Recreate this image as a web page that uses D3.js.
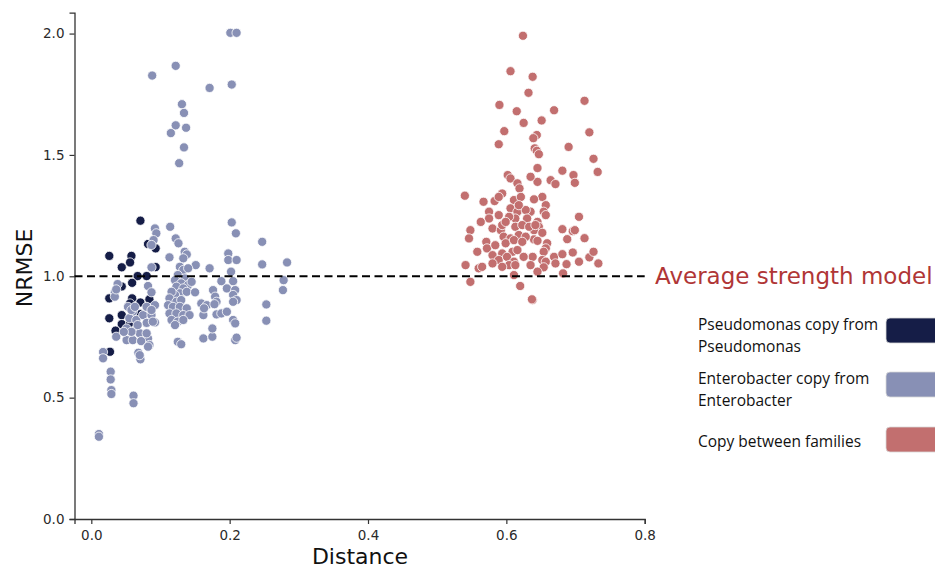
<!DOCTYPE html>
<html>
<head>
<meta charset="utf-8">
<script src="https://cdn.jsdelivr.net/npm/d3@7"></script>
<style>
  body { margin: 0; background: #fff; }
  svg { display: block; font-family: "DejaVu Sans", sans-serif; }
</style>
</head>
<body>
<svg id="chart" width="935" height="569"></svg>
<script>
// [distance, NRMSE]
const pseudomonas = [
  [0.071, 1.229], [0.026, 1.084], [0.058, 1.084], [0.056, 1.057], [0.044, 1.037],
  [0.082, 1.133], [0.093, 1.115], [0.093, 1.038], [0.067, 1.001], [0.080, 1.001],
  [0.059, 0.973], [0.044, 0.958], [0.026, 0.909], [0.059, 0.909], [0.056, 0.888],
  [0.071, 0.892], [0.084, 0.905], [0.071, 0.844], [0.044, 0.840], [0.026, 0.827],
  [0.044, 0.803], [0.056, 0.806], [0.035, 0.776], [0.027, 0.689]
];

const enterobacter = [
  // outliers
  [0.201, 2.003], [0.210, 2.003], [0.122, 1.867], [0.088, 1.827], [0.171, 1.776],
  [0.203, 1.790], [0.131, 1.709], [0.134, 1.673], [0.122, 1.622], [0.137, 1.612],
  [0.115, 1.590], [0.134, 1.531], [0.127, 1.466],
  [0.028, 0.607], [0.028, 0.575], [0.029, 0.531], [0.029, 0.515], [0.061, 0.508],
  [0.061, 0.477], [0.011, 0.350], [0.011, 0.339], [0.017, 0.688], [0.017, 0.662],
  [0.071, 0.658], [0.068, 0.685],
  // near 0.05
  [0.092, 1.197], [0.094, 1.177], [0.090, 1.149], [0.087, 1.129], [0.114, 1.204],
  [0.122, 1.156], [0.126, 1.136], [0.113, 1.078], [0.087, 1.037], [0.082, 0.960],
  [0.087, 0.934], [0.034, 0.934], [0.038, 0.968], [0.092, 0.881], [0.060, 0.854],
  [0.055, 0.827], [0.065, 0.820], [0.075, 0.840], [0.087, 0.840], [0.051, 0.785],
  [0.063, 0.778], [0.070, 0.765], [0.082, 0.744], [0.084, 0.717], [0.036, 0.751],
  [0.051, 0.737], [0.060, 0.737], [0.072, 0.733], [0.092, 0.810], [0.080, 0.808],
  [0.053, 0.874], [0.058, 0.861], [0.063, 0.874], [0.080, 0.874], [0.087, 0.861],
  [0.089, 0.813], [0.067, 0.799], [0.058, 0.771], [0.080, 0.765], [0.082, 0.710],
  [0.070, 0.675], [0.034, 0.916], [0.036, 0.946], [0.047, 0.771],
  // near 0.13
  [0.135, 1.101], [0.138, 1.090], [0.133, 1.074], [0.151, 1.046], [0.171, 1.033],
  [0.128, 1.039], [0.133, 1.026], [0.140, 1.033], [0.125, 1.005], [0.135, 0.991],
  [0.121, 0.984], [0.130, 0.971], [0.140, 0.964], [0.145, 0.977], [0.123, 0.957],
  [0.133, 0.950], [0.128, 0.930], [0.138, 0.936], [0.121, 0.923], [0.116, 0.936],
  [0.113, 0.909], [0.123, 0.895], [0.130, 0.902], [0.111, 0.881], [0.118, 0.874],
  [0.128, 0.874], [0.138, 0.868], [0.113, 0.847], [0.123, 0.847], [0.133, 0.840],
  [0.142, 0.840], [0.116, 0.820], [0.125, 0.813], [0.133, 0.820], [0.121, 0.799],
  [0.150, 0.934], [0.125, 0.730], [0.130, 0.720], [0.162, 0.744], [0.175, 0.751],
  [0.175, 0.785], [0.162, 0.840], [0.159, 0.888], [0.167, 0.881], [0.163, 0.868],
  [0.176, 0.943], [0.179, 0.916], [0.181, 0.895], [0.178, 0.885], [0.181, 0.843],
  [0.188, 0.847], [0.196, 0.854], [0.188, 0.980],
  // near 0.2 and beyond
  [0.203, 1.222], [0.209, 1.177], [0.198, 1.094], [0.198, 1.067], [0.210, 1.067],
  [0.202, 1.019], [0.205, 0.980], [0.196, 0.950], [0.208, 0.943], [0.205, 0.923],
  [0.210, 0.902], [0.205, 0.895], [0.205, 0.820], [0.208, 0.806], [0.208, 0.737],
  [0.210, 0.747], [0.247, 1.142], [0.247, 1.049], [0.283, 1.057], [0.278, 0.984],
  [0.277, 0.943], [0.253, 0.884], [0.253, 0.817]
];

const betweenFamilies = [
  [0.624, 1.991], [0.606, 1.845], [0.638, 1.822], [0.632, 1.756], [0.713, 1.723],
  [0.590, 1.706], [0.615, 1.680], [0.669, 1.684], [0.625, 1.632], [0.651, 1.642],
  [0.720, 1.593], [0.597, 1.598], [0.644, 1.582], [0.639, 1.569], [0.589, 1.544],
  [0.690, 1.533], [0.641, 1.527], [0.644, 1.517], [0.647, 1.503], [0.726, 1.484],
  [0.645, 1.446], [0.681, 1.435], [0.732, 1.430], [0.697, 1.417], [0.699, 1.385],
  [0.664, 1.396], [0.671, 1.380], [0.645, 1.389], [0.635, 1.410], [0.652, 1.327],
  [0.640, 1.317], [0.657, 1.293], [0.654, 1.266], [0.657, 1.252], [0.635, 1.266],
  [0.705, 1.245], [0.645, 1.224], [0.647, 1.204], [0.640, 1.190], [0.652, 1.179],
  [0.681, 1.194], [0.696, 1.186], [0.699, 1.190], [0.688, 1.153], [0.713, 1.157],
  [0.640, 1.152], [0.645, 1.146], [0.659, 1.136], [0.657, 1.115], [0.654, 1.101],
  [0.638, 1.080], [0.652, 1.067], [0.657, 1.060], [0.669, 1.080], [0.681, 1.091],
  [0.696, 1.098], [0.671, 1.053], [0.687, 1.050], [0.705, 1.060], [0.720, 1.078],
  [0.726, 1.101], [0.733, 1.053], [0.654, 1.037], [0.645, 1.019], [0.682, 1.012],
  [0.638, 0.902],
  [0.602, 1.417], [0.606, 1.403], [0.616, 1.383], [0.619, 1.362], [0.540, 1.332],
  [0.567, 1.307], [0.583, 1.310], [0.594, 1.341], [0.589, 1.327], [0.611, 1.314],
  [0.621, 1.327], [0.575, 1.266], [0.575, 1.238], [0.589, 1.252], [0.606, 1.280],
  [0.616, 1.266], [0.628, 1.273], [0.618, 1.293], [0.630, 1.238], [0.613, 1.238],
  [0.604, 1.245], [0.563, 1.224], [0.548, 1.190], [0.546, 1.156], [0.580, 1.197],
  [0.592, 1.190], [0.594, 1.211], [0.599, 1.224], [0.613, 1.204], [0.623, 1.211],
  [0.633, 1.204], [0.642, 1.211], [0.596, 1.163], [0.606, 1.156], [0.618, 1.170],
  [0.628, 1.163], [0.599, 1.136], [0.611, 1.149], [0.623, 1.142], [0.571, 1.142],
  [0.572, 1.115], [0.584, 1.128], [0.558, 1.101], [0.580, 1.087], [0.594, 1.094],
  [0.609, 1.101], [0.616, 1.108], [0.625, 1.080], [0.589, 1.067], [0.601, 1.080],
  [0.611, 1.060], [0.604, 1.046], [0.613, 1.046], [0.541, 1.046], [0.560, 1.033],
  [0.565, 1.039], [0.580, 1.053], [0.594, 1.039], [0.635, 1.046], [0.611, 1.005],
  [0.548, 0.977], [0.620, 0.960], [0.637, 0.905]
];

const xTicks = [0, 0.2, 0.4, 0.6, 0.8];
const yTicks = [0, 0.5, 1.0, 1.5, 2.0];
const baselineValue = 1.0;

const groups = [
  {label: ["Pseudomonas copy from", "Pseudomonas"], color: "#151d47", pts: pseudomonas},
  {label: ["Enterobacter copy from", "Enterobacter"], color: "#8890b5", pts: enterobacter},
  {label: ["Copy between families"], color: "#c26f6f", pts: betweenFamilies}
];

const svg = d3.select("#chart");
const axisColor = "#333";

const x = d3.scaleLinear().domain([-0.0243, 0.8]).range([74.5, 644.7]);
const y = d3.scaleLinear().domain([0, 2.086]).range([519, 12.7]);

// axes
const xAxis = svg.append("g")
  .attr("transform", `translate(0,${y(0)})`)
  .call(d3.axisBottom(x).tickValues(xTicks).tickFormat(d3.format(".1f")).tickSizeOuter(0).tickSize(5).tickPadding(6));
const yAxis = svg.append("g")
  .attr("transform", `translate(${x.range()[0]},0)`)
  .call(d3.axisLeft(y).tickValues(yTicks).tickFormat(d3.format(".1f")).tickSizeOuter(0).tickSize(5).tickPadding(5));

[xAxis, yAxis].forEach(a => {
  a.select(".domain").attr("stroke", axisColor).attr("stroke-width", 1.3);
  a.selectAll(".tick line").attr("stroke", axisColor).attr("stroke-width", 1.2);
  a.selectAll(".tick text").attr("fill", "#2a2a2a").style("font-size", "13.5px")
    .style("font-family", "DejaVu Sans");
});

svg.append("text")
  .attr("x", 360).attr("y", 564)
  .attr("text-anchor", "middle")
  .style("font-size", "22px").attr("fill", "#111")
  .text("Distance");

svg.append("text")
  .attr("transform", "translate(32,268) rotate(-90)")
  .attr("text-anchor", "middle")
  .style("font-size", "22px").attr("fill", "#111")
  .text("NRMSE");

// points
groups.forEach(g => {
  svg.append("g").selectAll("circle")
    .data(g.pts)
    .join("circle")
    .attr("cx", d => x(d[0]))
    .attr("cy", d => y(d[1]))
    .attr("r", 4.6)
    .attr("fill", g.color)
    .attr("stroke", "#fff")
    .attr("stroke-width", 0.8);
});

// reference line
svg.append("line")
  .attr("x1", x.range()[0]).attr("x2", x(0.8))
  .attr("y1", y(baselineValue)).attr("y2", y(baselineValue))
  .attr("stroke", "#000").attr("stroke-width", 2)
  .attr("stroke-dasharray", "8,4.5");

svg.append("text")
  .attr("x", 655).attr("y", y(baselineValue) + 7.5)
  .style("font-size", "23px").attr("fill", "#b03636")
  .text("Average strength model");

// legend
const legendTop = [318, 372, 427];
groups.forEach((g, i) => {
  const top = legendTop[i];
  svg.append("rect")
    .attr("x", 886).attr("y", top)
    .attr("width", 60).attr("height", 25)
    .attr("rx", 4)
    .attr("fill", g.color)
    .attr("stroke", "#d8d8d8").attr("stroke-width", 0.8);
  const t = svg.append("text")
    .style("font-family", "'Open Sans', sans-serif")
    .style("font-size", "15.5px").attr("fill", "#111");
  const firstBase = g.label.length > 1 ? top + 12 : top + 19.5;
  g.label.forEach((line, j) => {
    t.append("tspan").attr("x", 698).attr("y", firstBase + j * 22).text(line);
  });
});
</script>
</body>
</html>
